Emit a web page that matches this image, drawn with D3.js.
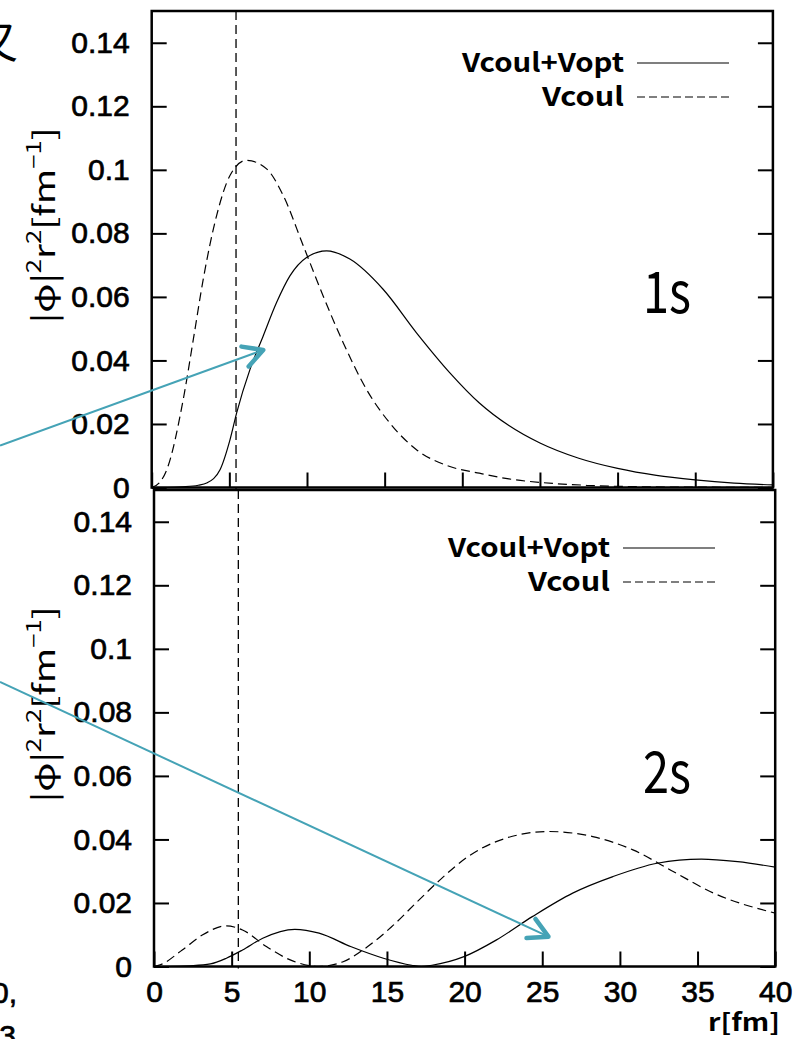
<!DOCTYPE html>
<html>
<head>
<meta charset="utf-8">
<script src="https://cdn.jsdelivr.net/npm/d3@7"></script>
<style>
  body { margin: 0; background: #fff; }
  svg { display: block; }
</style>
</head>
<body>
<div id="chart"></div>
<script>
// radial densities |phi|^2 r^2 (r in fm)
const r1sOpt = [0, 1, 2, 3, 3.54, 4.4, 5.04, 5.47, 6.33, 7.18, 8.04, 8.9, 9.97, 11.26, 12.76, 14.9, 17.05, 19.2, 21.1, 23, 25, 27.5, 30, 32.5, 35, 37.5, 40]
const v1sOpt = [0, 0, 0.0002, 0.0007, 0.0014, 0.0056, 0.015, 0.0235, 0.0372, 0.0477, 0.0582, 0.0666, 0.0724, 0.0745, 0.0719, 0.0624, 0.0487, 0.0361, 0.0266, 0.0195, 0.014, 0.0092, 0.006, 0.0038, 0.0024, 0.0014, 0.0008]

const r1sCoul = [0, 0.5, 0.97, 2.03, 2.68, 3.32, 4.18, 5.04, 6.1, 7.4, 8.47, 9.76, 11.04, 12.33, 13.84, 15.33, 17.05, 19.2, 21.1, 23, 25, 28, 32, 36, 40]
const v1sCoul = [0, 0.0015, 0.0056, 0.0277, 0.0466, 0.0656, 0.0856, 0.0982, 0.103, 0.1003, 0.0919, 0.0761, 0.0603, 0.0456, 0.0308, 0.0203, 0.0119, 0.0066, 0.0045, 0.0027, 0.0016, 0.0007, 0.0002, 0.0001, 0]

const r2sOpt = [0, 1, 2.33, 3.63, 4.66, 5.7, 7.0, 9.07, 10.63, 12.7, 14.77, 16.59, 17.2, 17.9, 19.96, 22.03, 24.36, 26.96, 29.55, 32.4, 35.25, 37.58, 40]
const v2sOpt = [0, 0, 0.0002, 0.0008, 0.0026, 0.0052, 0.0089, 0.0117, 0.0105, 0.0062, 0.0026, 0.0004, 0, 0.0004, 0.0031, 0.0083, 0.0157, 0.0231, 0.0283, 0.0325, 0.0338, 0.033, 0.0313]

const r2sCoul = [0, 0.39, 1.82, 3.11, 4.66, 5.7, 7.26, 8.81, 10.6, 12.18, 13.74, 15.3, 16.85, 18.4, 20.22, 22.3, 25.4, 28.25, 30.84, 33.43, 36.03, 40]
const v2sCoul = [0, 0.0005, 0.0052, 0.0099, 0.0128, 0.0115, 0.0062, 0.002, 0, 0.0015, 0.0062, 0.0125, 0.0199, 0.0272, 0.0346, 0.0398, 0.0425, 0.0409, 0.0367, 0.0299, 0.0231, 0.0168]

const xTicks = [0, 5, 10, 15, 20, 25, 30, 35, 40]
const yTicks = [0, 0.02, 0.04, 0.06, 0.08, 0.1, 0.12, 0.14]
const yTickLabels = ['0', '0.02', '0.04', '0.06', '0.08', '0.1', '0.12', '0.14']
const legendLabels = ['Vcoul+Vopt', 'Vcoul']
const stateLabels = ['1s', '2s']
const markerR = 5.43

// arrow annotations in data units of each panel [r, value]
const arrowTop = [[-9.76, 0.0132], [7.18, 0.0433]]
const arrowBottom = [[-9.92, 0.0896], [25.4, 0.0094]]

const width = 807
const height = 1039
const tickFont = '"Liberation Sans", Arial, sans-serif'
const gothic = '"Noto Sans CJK JP", "Noto Sans", sans-serif'
const teal = '#45a3b6'

const svg = d3.select('#chart').append('svg').attr('width', width).attr('height', height)

const panels = [
  { x0: 151.7, y0: 487.5, y1: 11, opt: [r1sOpt, v1sOpt], coul: [r1sCoul, v1sCoul], label: stateLabels[0], labelY: 313, legendY: 63, legendX: 624, tickLabels: false, arrow: arrowTop },
  { x0: 154, y0: 966.5, y1: 490, opt: [r2sOpt, v2sOpt], coul: [r2sCoul, v2sCoul], label: stateLabels[1], labelY: 793, legendY: 548, legendX: 610, tickLabels: true, arrow: arrowBottom }
]

panels.forEach(p => {
  const x = d3.scaleLinear().domain([0, 40]).range([p.x0, p.x0 + 40 * 15.53])
  const y = d3.scaleLinear().domain([0, 0.15]).range([p.y0, p.y1])
  const g = svg.append('g')

  // white background so the lower frame doesn't show through
  g.append('rect')
    .attr('x', x(0)).attr('y', y(0.15))
    .attr('width', x(40) - x(0)).attr('height', y(0) - y(0.15))
    .attr('fill', '#fff')

  // y axis left with labels, ticks pointing inward
  const yAxis = g.append('g')
    .attr('transform', `translate(${x(0)},0)`)
    .call(d3.axisLeft(y).tickValues(yTicks).tickSize(-15).tickPadding(22)
      .tickFormat((d, i) => yTickLabels[i]))
  yAxis.select('.domain').remove()
  yAxis.selectAll('line').attr('stroke-width', 2)
  yAxis.selectAll('text').attr('font-family', tickFont).attr('font-size', 30).attr('fill', '#000')
    .attr('stroke', '#000').attr('stroke-width', 0.7)

  // mirror ticks on the right
  const yRight = g.append('g')
    .attr('transform', `translate(${x(40)},0)`)
    .call(d3.axisRight(y).tickValues(yTicks).tickSize(-15).tickFormat(''))
  yRight.select('.domain').remove()
  yRight.selectAll('line').attr('stroke-width', 2)

  // x axis bottom
  const xAxis = g.append('g')
    .attr('transform', `translate(0,${y(0)})`)
    .call(d3.axisBottom(x).tickValues(xTicks).tickSize(-15).tickPadding(14)
      .tickFormat(d => p.tickLabels ? d : ''))
  xAxis.select('.domain').remove()
  xAxis.selectAll('line').attr('stroke-width', 2)
  xAxis.selectAll('text').attr('font-family', tickFont).attr('font-size', 30).attr('fill', '#000')
    .attr('stroke', '#000').attr('stroke-width', 0.7)

  // vertical marker line
  g.append('line')
    .attr('x1', x(markerR)).attr('x2', x(markerR))
    .attr('y1', y(0.15)).attr('y2', y(0) + 2)
    .attr('stroke', '#000').attr('stroke-width', 1.3)
    .attr('stroke-dasharray', '9,5')

  const line = d3.line().x(d => x(d[0])).y(d => y(d[1])).curve(d3.curveMonotoneX)

  g.append('path')
    .datum(d3.zip(p.coul[0], p.coul[1]))
    .attr('d', line)
    .attr('fill', 'none').attr('stroke', '#000').attr('stroke-width', 1.2)
    .attr('stroke-dasharray', '9,5')

  g.append('path')
    .datum(d3.zip(p.opt[0], p.opt[1]))
    .attr('d', line)
    .attr('fill', 'none').attr('stroke', '#000').attr('stroke-width', 1.2)

  // frame
  g.append('rect')
    .attr('x', x(0)).attr('y', y(0.15))
    .attr('width', x(40) - x(0)).attr('height', y(0) - y(0.15))
    .attr('fill', 'none').attr('stroke', '#000').attr('stroke-width', 2.5)

  // legend
  legendLabels.forEach((lab, i) => {
    const ly = p.legendY + i * 34
    g.append('text')
      .attr('x', p.legendX).attr('y', ly + 9)
      .attr('text-anchor', 'end')
      .attr('font-family', gothic).attr('font-size', 26).attr('font-weight', 'bold')
      .attr('textLength', i === 0 ? 162 : 82).attr('lengthAdjust', 'spacingAndGlyphs')
      .text(lab)
    g.append('line')
      .attr('x1', p.legendX + 13).attr('x2', p.legendX + 105)
      .attr('y1', ly).attr('y2', ly)
      .attr('stroke', '#000').attr('stroke-width', 1.2)
      .attr('stroke-dasharray', i === 0 ? null : '8,4')
  })

  // state label
  g.append('text')
    .attr('x', 667).attr('y', p.labelY)
    .attr('text-anchor', 'middle')
    .attr('font-family', gothic).attr('font-size', 58)
    .attr('textLength', 48).attr('lengthAdjust', 'spacingAndGlyphs')
    .text(p.label)

  // y label
  const cy = (y(0) + y(0.15)) / 2 - 24
  const yl = g.append('text')
    .attr('transform', `translate(55,${cy}) rotate(-90)`)
    .attr('text-anchor', 'middle')
    .attr('font-family', gothic).attr('font-size', 30)
    .attr('textLength', 196).attr('lengthAdjust', 'spacingAndGlyphs')
  yl.append('tspan').text('|φ|')
  yl.append('tspan').attr('baseline-shift', 'super').attr('font-size', 20).text('2')
  yl.append('tspan').text('r')
  yl.append('tspan').attr('baseline-shift', 'super').attr('font-size', 20).text('2')
  yl.append('tspan').text('[fm')
  yl.append('tspan').attr('baseline-shift', 'super').attr('font-size', 20).text('−1')
  yl.append('tspan').text(']')

  p.xs = x
  p.ys = y
})

// x label
svg.append('text')
  .attr('x', 780).attr('y', 1031)
  .attr('text-anchor', 'end')
  .attr('font-family', gothic).attr('font-size', 24).attr('font-weight', 'bold')
  .attr('textLength', 72).attr('lengthAdjust', 'spacingAndGlyphs')
  .text('r[fm]')

// teal arrows
panels.forEach(p => {
  const [a, b] = p.arrow
  const x1 = p.xs(a[0]), y1 = p.ys(a[1]), x2 = p.xs(b[0]), y2 = p.ys(b[1])
  svg.append('line')
    .attr('x1', x1).attr('y1', y1).attr('x2', x2).attr('y2', y2)
    .attr('stroke', teal).attr('stroke-width', 2)
  const ang = Math.atan2(y2 - y1, x2 - x1)
  const len = 22
  const spread = 0.5
  const pts = [
    [x2 - len * Math.cos(ang - spread), y2 - len * Math.sin(ang - spread)],
    [x2, y2],
    [x2 - len * Math.cos(ang + spread), y2 - len * Math.sin(ang + spread)]
  ]
  svg.append('path')
    .attr('d', d3.line()(pts))
    .attr('fill', 'none').attr('stroke', teal).attr('stroke-width', 4.5)
    .attr('stroke-linecap', 'round').attr('stroke-linejoin', 'round')
})

// cropped text fragments at the left edge
svg.append('text')
  .attr('x', 18).attr('y', 58).attr('text-anchor', 'end')
  .attr('font-family', gothic).attr('font-size', 44)
  .text('又')
svg.append('text')
  .attr('x', 17).attr('y', 1003).attr('text-anchor', 'end')
  .attr('font-family', tickFont).attr('font-size', 30)
  .attr('stroke', '#000').attr('stroke-width', 0.7)
  .text('0,')
svg.append('text')
  .attr('x', 16).attr('y', 1046).attr('text-anchor', 'end')
  .attr('font-family', tickFont).attr('font-size', 30)
  .attr('stroke', '#000').attr('stroke-width', 0.7)
  .text('3')
</script>
</body>
</html>
